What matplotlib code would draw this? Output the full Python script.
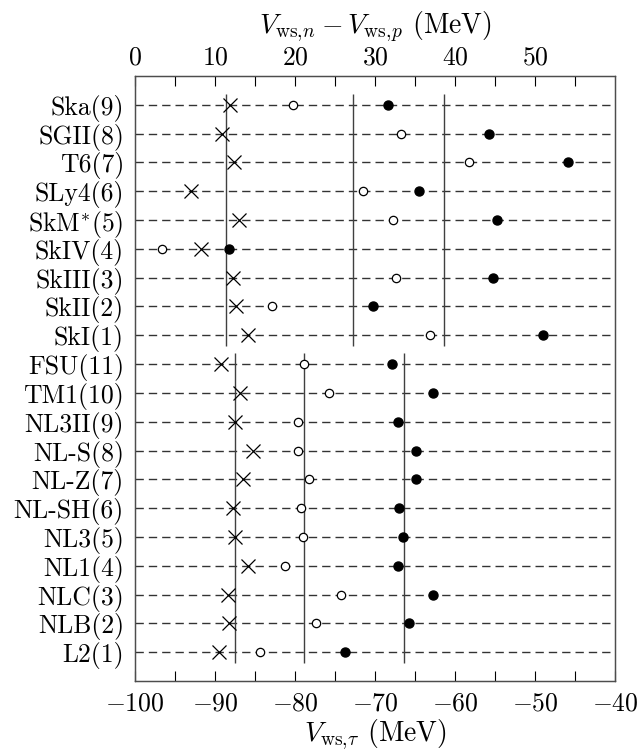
import numpy as np
import matplotlib
matplotlib.use('Agg')
import matplotlib.pyplot as plt

plt.rcParams['font.family'] = 'serif'
plt.rcParams['font.serif'] = ['cmr10']
plt.rcParams['mathtext.fontset'] = 'cm'
plt.rcParams['axes.formatter.use_mathtext'] = True
plt.rcParams['font.size'] = 18.5

# row labels, top to bottom
skyrme_names = ['Ska(9)', 'SGII(8)', 'T6(7)', 'SLy4(6)', r'$\mathrm{SkM}^{*}$(5)', 'SkIV(4)',
                'SkIII(3)', 'SkII(2)', 'SkI(1)']
rmf_names = ['FSU(11)', 'TM1(10)', 'NL3II(9)', 'NL-S(8)', 'NL-Z(7)', 'NL-SH(6)',
             'NL3(5)', 'NL1(4)', 'NLC(3)', 'NLB(2)', 'L2(1)']

# V_ws,tau (bottom axis)
skyrme_tau = [-88.1, -89.1, -87.6, -93.0, -87.0, -91.75, -87.8, -87.4, -85.9]
rmf_tau = [-89.3, -86.9, -87.55, -85.3, -86.5, -87.7, -87.55, -85.9, -88.4, -88.3, -89.55]

# V_ws,n - V_ws,p (top axis), open and filled circles
skyrme_open = [19.7, 33.2, 41.8, 28.45, 32.3, 3.4, 32.6, 17.1, 36.9]
skyrme_filled = [31.6, 44.2, 54.1, 35.5, 45.3, 11.7, 44.8, 29.7, 51.0]
rmf_open = [21.1, 24.2, 20.4, 20.4, 21.7, 20.75, 20.95, 18.7, 25.7, 22.6, 15.6]
rmf_filled = [32.1, 37.3, 32.9, 35.1, 35.1, 33.0, 33.45, 32.9, 37.25, 34.3, 26.25]

names = skyrme_names + rmf_names
n = len(names)
ypos = np.arange(n, 0, -1)
y_sky = ypos[:len(skyrme_names)]
y_rmf = ypos[len(skyrme_names):]

fig = plt.figure(figsize=(6.39, 7.53), dpi=100)
ax = fig.add_axes([0.2113, 0.0956, 0.7511, 0.8035])
ax2 = ax.twiny()

ax.set_xlim(-100, -40)
ax.set_ylim(0, n + 1)
ax2.set_xlim(0, 60)

# dashed guide lines for every row
for y in ypos:
    ax.axhline(y, color='0.2', lw=1.0, ls=(0, (6, 3.6)), zorder=1)

# group averages as vertical lines
ext = 0.38
ax.vlines(np.mean(skyrme_tau), y_sky[-1] - ext, y_sky[0] + ext, color='0.25', lw=1.0, zorder=1)
ax.vlines(np.mean(rmf_tau), y_rmf[-1] - ext, y_rmf[0] + ext, color='0.25', lw=1.0, zorder=1)
ax2.vlines(np.mean(skyrme_open), y_sky[-1] - ext, y_sky[0] + ext, color='0.25', lw=1.0, zorder=1)
ax2.vlines(np.mean(skyrme_filled), y_sky[-1] - ext, y_sky[0] + ext, color='0.25', lw=1.0, zorder=1)
ax2.vlines(np.mean(rmf_open), y_rmf[-1] - ext, y_rmf[0] + ext, color='0.25', lw=1.0, zorder=1)
ax2.vlines(np.mean(rmf_filled), y_rmf[-1] - ext, y_rmf[0] + ext, color='0.25', lw=1.0, zorder=1)

# markers
ax.plot(skyrme_tau + rmf_tau, ypos, ls='none', marker='x', ms=9.5, mew=0.9, color='k', zorder=3)
ax2.plot(skyrme_open + rmf_open, ypos, ls='none', marker='o', ms=6, mew=0.9,
         mfc='white', mec='k', zorder=3)
ax2.plot(skyrme_filled + rmf_filled, ypos, ls='none', marker='o', ms=6.5, color='k', zorder=3)

# axes styling
ax.set_yticks(ypos)
ax.set_yticklabels(names)
ax.tick_params(axis='y', length=0, pad=8)
ax.set_xticks(np.arange(-100, -39, 10))
ax.set_xticks(np.arange(-95, -40, 5), minor=True)
ax.tick_params(axis='x', which='both', direction='in', length=7, width=0.8, top=False, pad=8)
ax.set_xlabel(r'$V_{\mathrm{ws},\!\tau}$ (MeV)', labelpad=1, fontsize=20)

ax2.set_xticks(np.arange(0, 51, 10))
ax2.set_xticks(np.arange(5, 60, 5), minor=True)
ax2.tick_params(axis='x', which='both', direction='in', length=7, width=0.8, pad=5)
ax2.set_xlabel(r'$V_{\mathrm{ws},\!n} - V_{\mathrm{ws},\!p}$ (MeV)', labelpad=9, fontsize=20)

for a in (ax, ax2):
    for s in a.spines.values():
        s.set_linewidth(0.9)
        s.set_color('0.3')

fig.savefig('out.png', dpi=100)
